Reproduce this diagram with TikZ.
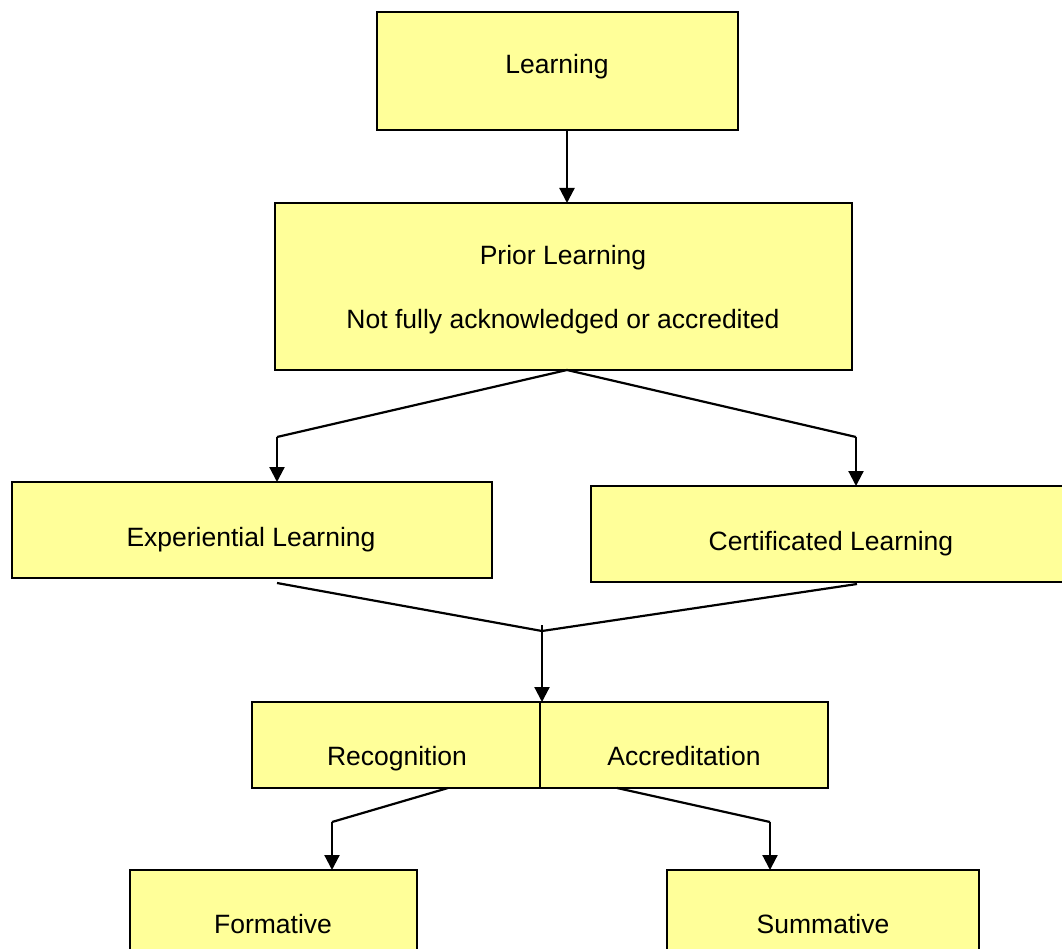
\documentclass[tikz,border=0pt]{standalone}
\usepackage{fontspec}
\setmainfont{Liberation Sans}
\usetikzlibrary{arrows.meta}
\definecolor{boxyellow}{HTML}{FFFF99}
\begin{document}
\begin{tikzpicture}[x=1pt,y=-1pt,
  box/.style={draw=black, fill=boxyellow, line width=2.4pt, rectangle, inner sep=0pt, outer sep=0pt},
  txt/.style={anchor=base, inner sep=0pt, font=\fontsize{26.5}{31}\selectfont},
  conn/.style={line width=2.2pt},
  arr/.style={line width=2.2pt, -{Triangle[length=15pt,width=15pt]}}]
\useasboundingbox (0,0) rectangle (1062,949);
% boxes
\node[box, minimum width=361pt, minimum height=118pt] (learn) at (557.5,71) {};
\node[box, minimum width=577pt, minimum height=167pt] (prior) at (563.5,286.5) {};
\node[box, minimum width=480pt, minimum height=96pt] (exp) at (252,530) {};
\node[box, minimum width=480pt, minimum height=96pt] (cert) at (831,534) {};
\node[box, minimum width=288pt, minimum height=86pt] (rec) at (396,745) {};
\node[box, minimum width=288pt, minimum height=86pt] (acc) at (684,745) {};
\node[box, minimum width=287pt, minimum height=130pt] (form) at (273.5,935) {};
\node[box, minimum width=312pt, minimum height=130pt] (summ) at (823,935) {};
% texts
\node[txt] (tlearn) at (557,74) {Learning};
\node[txt] (tprior) at (563,265) {Prior Learning};
\node[txt] (tnot) at (563,328) {Not fully acknowledged or accredited};
\node[txt] (texp) at (251,546) {Experiential Learning};
\node[txt] (tcert) at (831,550) {Certificated Learning};
\node[txt] (trec) at (397,765) {Recognition};
\node[txt] (tacc) at (684,765) {Accreditation};
\node[txt] (tform) at (273,933) {Formative};
\node[txt] (tsumm) at (823,933) {Summative};
% junction coordinates
\coordinate (j0) at (567,0);
\coordinate (pl) at (277,437);
\coordinate (pr) at (856,437);
\coordinate (ml) at (277,583);
\coordinate (mr) at (857,584);
\coordinate (m) at (542,631);
\coordinate (mt) at (542,625);
\coordinate (rl) at (448,0);
\coordinate (rr) at (617,0);
\coordinate (fl) at (332,822);
\coordinate (fr) at (770,822);
% connectors
\draw[arr] (learn.south -| j0) -- (prior.north -| j0);
\draw[conn] (prior.south -| j0) -- (pl);
\draw[conn] (prior.south -| j0) -- (pr);
\draw[arr] (pl) -- (pl |- exp.north);
\draw[arr] (pr) -- (pr |- cert.north);
\draw[conn] (ml) -- (m) -- (mr);
\draw[arr] (mt) -- (mt |- rec.north);
\draw[conn] (rec.south -| rl) -- (fl);
\draw[arr] (fl) -- (fl |- form.north);
\draw[conn] (acc.south -| rr) -- (fr);
\draw[arr] (fr) -- (fr |- summ.north);
\end{tikzpicture}
\end{document}
